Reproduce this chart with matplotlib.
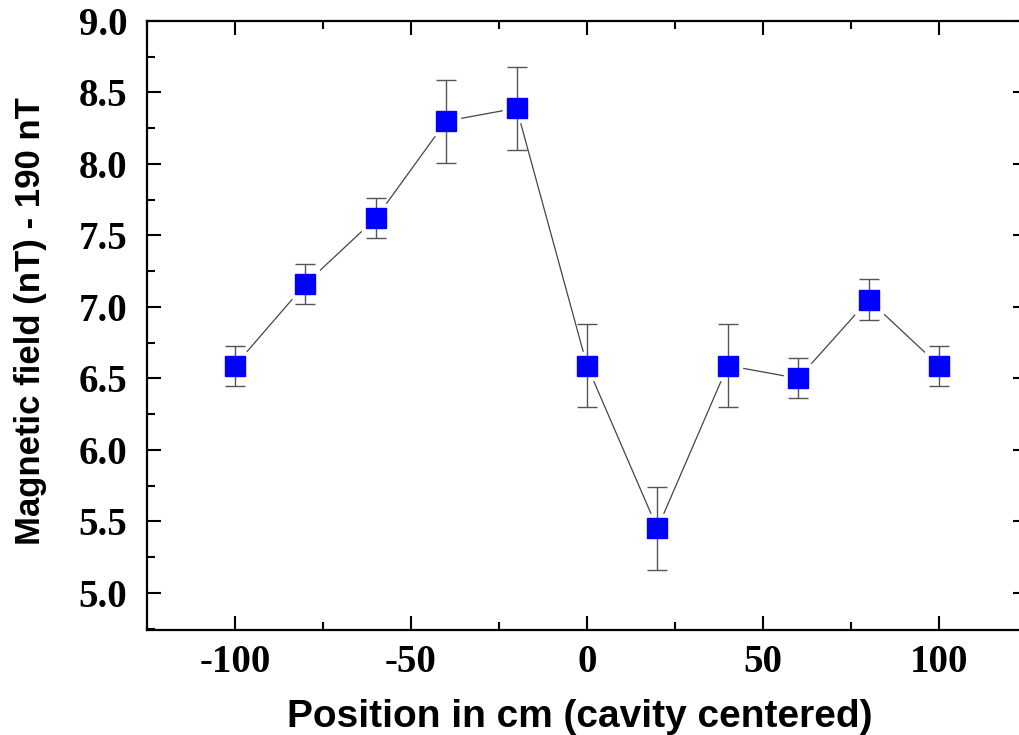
import matplotlib
matplotlib.use("Agg")
import matplotlib.pyplot as plt
from matplotlib.ticker import MultipleLocator

# data
position = [-100, -80, -60, -40, -20, 0, 20, 40, 60, 80, 100]
field = [6.59, 7.16, 7.62, 8.30, 8.39, 6.59, 5.45, 6.59, 6.50, 7.05, 6.59]
field_err = [0.14, 0.14, 0.14, 0.29, 0.29, 0.29, 0.29, 0.29, 0.14, 0.145, 0.14]
xticks = [-100, -50, 0, 50, 100]
yticks = [5.0, 5.5, 6.0, 6.5, 7.0, 7.5, 8.0, 8.5, 9.0]

W, H = 1019, 735
fig = plt.figure(figsize=(W / 100, H / 100), dpi=100)
ax = fig.add_axes([147 / W, (H - 630) / H, (1027 - 147) / W, (630 - 21) / H])

# connecting line, with a white halo around each point to leave a small gap
ax.plot(position, field, color='#444444', lw=0.9, zorder=1)
ax.plot(position, field, 's', ms=20, color='white', mec='white', zorder=2)
ax.errorbar(position, field, yerr=field_err, fmt='none', ecolor='#555555',
            elinewidth=1.0, capsize=7, capthick=1.0, zorder=3)
ax.plot(position, field, 's', ms=14, color='#0000ff', mec='#0000ff', zorder=4)

ax.set_xlim(-125, 125)
ax.set_ylim(4.74, 9.0)
ax.set_xticks(xticks)
ax.set_yticks(yticks)
ax.xaxis.set_minor_locator(MultipleLocator(25))
ax.yaxis.set_minor_locator(MultipleLocator(0.25))
ax.set_xticklabels([str(v) for v in xticks])
ax.set_yticklabels(['%.1f' % v for v in yticks])

ax.tick_params(which='both', direction='in', top=True, right=True, width=1.5, color='black')
ax.tick_params(which='major', length=10)
ax.tick_params(which='minor', length=5.5)
ax.tick_params(axis='x', which='major', pad=10)
ax.tick_params(axis='y', which='major', pad=14)
for lab in ax.get_xticklabels() + ax.get_yticklabels():
    lab.set_fontfamily('Liberation Serif')
    lab.set_fontweight('bold')
    lab.set_fontsize(28)
for s in ax.spines.values():
    s.set_linewidth(1.6)

ax.set_xlabel('Position in cm (cavity centered)', family='Liberation Sans',
              fontweight='bold', fontsize=28)
ax.set_ylabel('Magnetic field (nT) - 190 nT', family='Liberation Sans',
              fontweight='bold', fontsize=25)
ax.xaxis.set_label_coords(0.492, -0.113)
ax.yaxis.set_label_coords(-0.114, 0.507)

fig.savefig('out.png', dpi=100)
